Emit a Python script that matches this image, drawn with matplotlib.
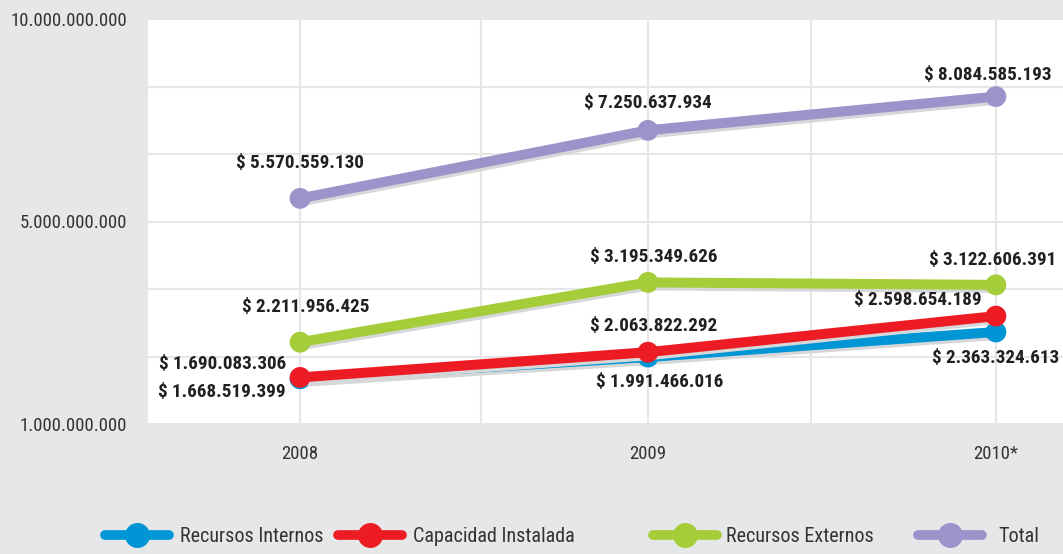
import numpy as np
import matplotlib
matplotlib.use("Agg")
import matplotlib.pyplot as plt
import matplotlib.patheffects as pe
import matplotlib.font_manager as fm
from matplotlib.lines import Line2D
from matplotlib.ticker import FixedLocator, FuncFormatter, NullFormatter

# ---------------- data ----------------
years = ["2008", "2009", "2010*"]
series_names = ["Recursos Internos", "Capacidad Instalada", "Recursos Externos", "Total"]
recursos_internos = [1668519399, 1991466016, 2363324613]
capacidad_instalada = [1690083306, 2063822292, 2598654189]
recursos_externos = [2211956425, 3195349626, 3122606391]
total = [5570559130, 7250637934, 8084585193]
y_tick_values = [1_000_000_000, 5_000_000_000, 10_000_000_000]
# equally spaced axis levels (billions) of the reference's uneven value axis
axis_levels = [1, 2, 3, 5, 20 / 3, 25 / 3, 10]

# ---------------- fonts: look for a narrow / condensed face ----------------
def _w(f):
    w = f.weight
    if isinstance(w, str):
        w = fm.weight_dict.get(w, 400)
    return int(w)


def pick_font(bold):
    target = 700 if bold else 400
    pri = ["Liberation Sans Narrow", "Roboto Condensed", "DejaVu Sans", "Noto Sans",
           "Open Sans", "Arimo"]
    best, best_score = None, None
    for f in fm.fontManager.ttflist:
        narrow = ("Narrow" in f.name) or ("Condensed" in f.name) or \
                 (f.stretch in ("condensed", "semi-condensed", "extra-condensed"))
        if not narrow or f.style != "normal":
            continue
        base = f.name.replace(" Narrow", "").replace(" Condensed", "").replace(" SemiCondensed", "")
        p = pri.index(f.name) if f.name in pri else (pri.index(base) + 1 if base in pri else 10)
        score = (abs(_w(f) - target), p)
        if best_score is None or score < best_score:
            best, best_score = f, score
    if best is None:
        return fm.FontProperties(family=["Liberation Sans", "DejaVu Sans"],
                                 weight="bold" if bold else "normal")
    return fm.FontProperties(fname=best.fname)


FP_REG = pick_font(False)
FP_BOLD = pick_font(True)


def fp(base, size):
    p = base.copy()
    p.set_size(size)
    return p


BG = "#e6e7e8"
colors = ["#0096d6", "#ed1c24", "#a5cd39", "#9b93c9"]
TXT = "#231f20"
B = 1e9
LV = np.array(axis_levels)
POS = np.linspace(0, 1, len(LV))


def fwd(v):
    return np.interp(np.asarray(v, dtype=float) / B, LV, POS, left=-1, right=2)


def inv(u):
    return B * np.interp(np.asarray(u, dtype=float), POS, LV)


fig = plt.figure(figsize=(10.63, 5.54), dpi=100, facecolor=BG)
ax = fig.add_axes([148 / 1063, 1 - 424 / 554, 1 - 148 / 1063, (424 - 19) / 554])
ax.set_facecolor("white")
ax.set_yscale("function", functions=(fwd, inv))
ax.set_ylim(y_tick_values[0], y_tick_values[-1])
ax.set_xlim(-0.437, 2.193)

x = np.arange(len(years))

ax.yaxis.set_major_locator(FixedLocator(y_tick_values))
ax.yaxis.set_minor_locator(FixedLocator([v * B for v in axis_levels[1:3] + axis_levels[4:6]]))
ax.yaxis.set_major_formatter(FuncFormatter(lambda v, p: f"{int(round(v)):,}".replace(",", ".")))
ax.yaxis.set_minor_formatter(NullFormatter())
ax.set_xticks(x)
ax.set_xticklabels(years)
ax.set_xticks([0.52, 1.47], minor=True)
ax.grid(True, which="both", color="#e6e6e8", lw=1.5, zorder=0)
ax.set_axisbelow(True)
ax.tick_params(which="both", length=0)
ax.tick_params(axis="y", pad=15, labelcolor="#333333")
ax.tick_params(axis="x", pad=15, labelcolor="#333333")
for lab in ax.get_yticklabels() + ax.get_xticklabels():
    lab.set_fontproperties(fp(FP_REG, 13.5))
for s in ax.spines.values():
    s.set_visible(False)

shadow = [pe.SimpleLineShadow(offset=(0.6, -2.2), shadow_color="#d6d7d9", alpha=1.0), pe.Normal()]

all_series = [recursos_internos, capacidad_instalada, recursos_externos, total]
for vals, c in zip(all_series, colors):
    ax.plot(x, vals, color=c, lw=7.2, marker="o", ms=15, mec=c, mew=0, mfc=c,
            solid_capstyle="round", path_effects=shadow, zorder=3)


def fmt(v):
    return "$ " + f"{v:,}".replace(",", ".")


# label offsets in pixels (dx, dy, ha)
offsets = {
    0: [(-14, -13, "right"), (12, -25, "center"), (0, -26, "center")],
    1: [(-14, 13, "right"), (6, 26, "center"), (-14, 16, "right")],
    2: [(6, 35, "center"), (6, 25, "center"), (-3, 25, "center")],
    3: [(0, 35, "center"), (0, 27, "center"), (-8, 22, "center")],
}
for si, vals in enumerate(all_series):
    for xi, v in enumerate(vals):
        dx, dy, ha = offsets[si][xi]
        ax.annotate(fmt(v), (x[xi], v), xytext=(dx, dy), textcoords="offset pixels",
                    ha=ha, va="center", fontproperties=fp(FP_BOLD, 13.8), color=TXT,
                    zorder=5, annotation_clip=False)

# legend: one entry per legend to match the reference's spacing
legend_x = [105, 338, 653, 918]
text_pad = [10, 10, 8, 16]
for name, c, lx, tp in zip(series_names, colors, legend_x, text_pad):
    h = Line2D([0], [0], color=c, lw=7, marker="o", ms=18, mfc=c, mec=c, mew=0,
               solid_capstyle="round")
    leg = fig.legend([h], [name], loc="center left", bbox_to_anchor=(lx / 1063, 1 - 537 / 554),
                     frameon=False, borderpad=0, borderaxespad=0, handlelength=3.2,
                     handletextpad=tp / 20.0, prop=fp(FP_REG, 14.5))
    for t in leg.get_texts():
        t.set_color("#333333")

fig.savefig("out.png", dpi=100, facecolor=BG)
